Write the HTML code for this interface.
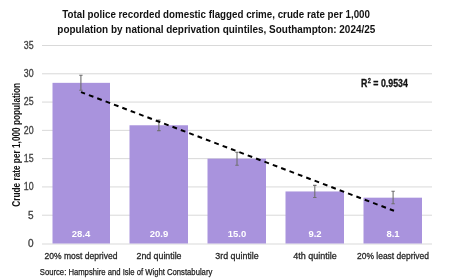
<!DOCTYPE html>
<html><head><meta charset="utf-8"><style>
html,body{margin:0;padding:0;background:#fff;width:449px;height:280px;overflow:hidden;font-family:"Liberation Sans",sans-serif;}
svg{display:block;will-change:transform}
</style></head><body>
<svg width="449" height="280" viewBox="0 0 449 280" font-family="Liberation Sans, sans-serif">
<line x1="42" y1="45.50" x2="432" y2="45.50" stroke="#d9d9d9" stroke-width="1"/>
<line x1="42" y1="73.79" x2="432" y2="73.79" stroke="#d9d9d9" stroke-width="1"/>
<line x1="42" y1="102.07" x2="432" y2="102.07" stroke="#d9d9d9" stroke-width="1"/>
<line x1="42" y1="130.36" x2="432" y2="130.36" stroke="#d9d9d9" stroke-width="1"/>
<line x1="42" y1="158.64" x2="432" y2="158.64" stroke="#d9d9d9" stroke-width="1"/>
<line x1="42" y1="186.93" x2="432" y2="186.93" stroke="#d9d9d9" stroke-width="1"/>
<line x1="42" y1="215.21" x2="432" y2="215.21" stroke="#d9d9d9" stroke-width="1"/>
<line x1="42" y1="244" x2="432" y2="244" stroke="#d9d9d9" stroke-width="1"/>
<rect x="52.50" y="82.84" width="57.5" height="160.66" fill="#a993dd"/>
<rect x="129.50" y="125.27" width="58.5" height="118.23" fill="#a993dd"/>
<rect x="207.50" y="158.64" width="58.5" height="84.86" fill="#a993dd"/>
<rect x="285.50" y="191.46" width="58.5" height="52.04" fill="#a993dd"/>
<rect x="363.50" y="197.68" width="58.5" height="45.82" fill="#a993dd"/>
<path d="M80.9 75.3 V90.3 M79.2 75.3 H82.60000000000001 M79.2 90.3 H82.60000000000001" stroke="#707070" stroke-width="1.1" fill="none"/>
<path d="M158.9 120 V130.6 M157.20000000000002 120 H160.6 M157.20000000000002 130.6 H160.6" stroke="#707070" stroke-width="1.1" fill="none"/>
<path d="M237 152.3 V165.2 M235.3 152.3 H238.7 M235.3 165.2 H238.7" stroke="#707070" stroke-width="1.1" fill="none"/>
<path d="M314.8 185.4 V197.5 M313.1 185.4 H316.5 M313.1 197.5 H316.5" stroke="#707070" stroke-width="1.1" fill="none"/>
<path d="M393.1 191.25 V203.75 M391.40000000000003 191.25 H394.8 M391.40000000000003 203.75 H394.8" stroke="#707070" stroke-width="1.1" fill="none"/>
<line x1="81" y1="92.1" x2="394" y2="210.8" stroke="#000" stroke-width="2" stroke-dasharray="4.8 4.14" stroke-dashoffset="0.5"/>
<text x="62.30" y="18.4" font-size="10.7" font-weight="bold" fill="#111" textLength="307.70" lengthAdjust="spacingAndGlyphs">Total police recorded domestic flagged crime, crude rate per 1,000</text>
<text x="57.30" y="32.6" font-size="10.7" font-weight="bold" fill="#111" textLength="318.00" lengthAdjust="spacingAndGlyphs">population by national deprivation quintiles, Southampton: 2024/25</text>
<text x="33.6" y="48.60" text-anchor="end" font-size="10" fill="#404040" stroke="#404040" stroke-width="0.3" textLength="9.8" lengthAdjust="spacingAndGlyphs">35</text>
<text x="33.6" y="76.97" text-anchor="end" font-size="10" fill="#404040" stroke="#404040" stroke-width="0.3" textLength="9.8" lengthAdjust="spacingAndGlyphs">30</text>
<text x="33.6" y="105.34" text-anchor="end" font-size="10" fill="#404040" stroke="#404040" stroke-width="0.3" textLength="9.8" lengthAdjust="spacingAndGlyphs">25</text>
<text x="33.6" y="133.71" text-anchor="end" font-size="10" fill="#404040" stroke="#404040" stroke-width="0.3" textLength="9.8" lengthAdjust="spacingAndGlyphs">20</text>
<text x="33.6" y="162.08" text-anchor="end" font-size="10" fill="#404040" stroke="#404040" stroke-width="0.3" textLength="9.8" lengthAdjust="spacingAndGlyphs">15</text>
<text x="33.6" y="190.45" text-anchor="end" font-size="10" fill="#404040" stroke="#404040" stroke-width="0.3" textLength="9.8" lengthAdjust="spacingAndGlyphs">10</text>
<text x="33.6" y="218.82" text-anchor="end" font-size="10" fill="#404040" stroke="#404040" stroke-width="0.3" >5</text>
<text x="33.6" y="247.19" text-anchor="end" font-size="10" fill="#404040" stroke="#404040" stroke-width="0.3" >0</text>
<text transform="translate(19.6,144.8) rotate(-90)" x="0" y="0" text-anchor="middle" font-weight="bold" font-size="10.2" fill="#111" textLength="123.8" lengthAdjust="spacingAndGlyphs">Crude rate per 1,000 population</text>
<text x="81" y="258.9" text-anchor="middle" font-size="9.5" fill="#262626" stroke="#262626" stroke-width="0.3" textLength="73" lengthAdjust="spacingAndGlyphs">20% most deprived</text>
<text x="159" y="258.9" text-anchor="middle" font-size="9.5" fill="#262626" stroke="#262626" stroke-width="0.3" textLength="45" lengthAdjust="spacingAndGlyphs">2nd quintile</text>
<text x="237" y="258.9" text-anchor="middle" font-size="9.5" fill="#262626" stroke="#262626" stroke-width="0.3" textLength="43.5" lengthAdjust="spacingAndGlyphs">3rd quintile</text>
<text x="315" y="258.9" text-anchor="middle" font-size="9.5" fill="#262626" stroke="#262626" stroke-width="0.3" textLength="43.5" lengthAdjust="spacingAndGlyphs">4th quintile</text>
<text x="393" y="258.9" text-anchor="middle" font-size="9.5" fill="#262626" stroke="#262626" stroke-width="0.3" textLength="72" lengthAdjust="spacingAndGlyphs">20% least deprived</text>
<text x="39.8" y="274.9" font-size="9.0" fill="#1a1a1a" stroke="#1a1a1a" stroke-width="0.25" textLength="172.5" lengthAdjust="spacingAndGlyphs">Source: Hampshire and Isle of Wight Constabulary</text>
<text x="81" y="237.0" text-anchor="middle" font-weight="bold" font-size="9.5" fill="#fff">28.4</text>
<text x="159" y="237.0" text-anchor="middle" font-weight="bold" font-size="9.5" fill="#fff">20.9</text>
<text x="237" y="237.0" text-anchor="middle" font-weight="bold" font-size="9.5" fill="#fff">15.0</text>
<text x="315" y="237.0" text-anchor="middle" font-weight="bold" font-size="9.5" fill="#fff">9.2</text>
<text x="393" y="237.0" text-anchor="middle" font-weight="bold" font-size="9.5" fill="#fff">8.1</text>
<text x="360.9" y="86.8" font-weight="bold" font-size="10.2" fill="#111" stroke="#111" stroke-width="0.3" textLength="47" lengthAdjust="spacingAndGlyphs">R<tspan font-size="6.5" dx="0.6" dy="-4">2</tspan><tspan dy="4"> = 0.9534</tspan></text>
</svg>
</body></html>
